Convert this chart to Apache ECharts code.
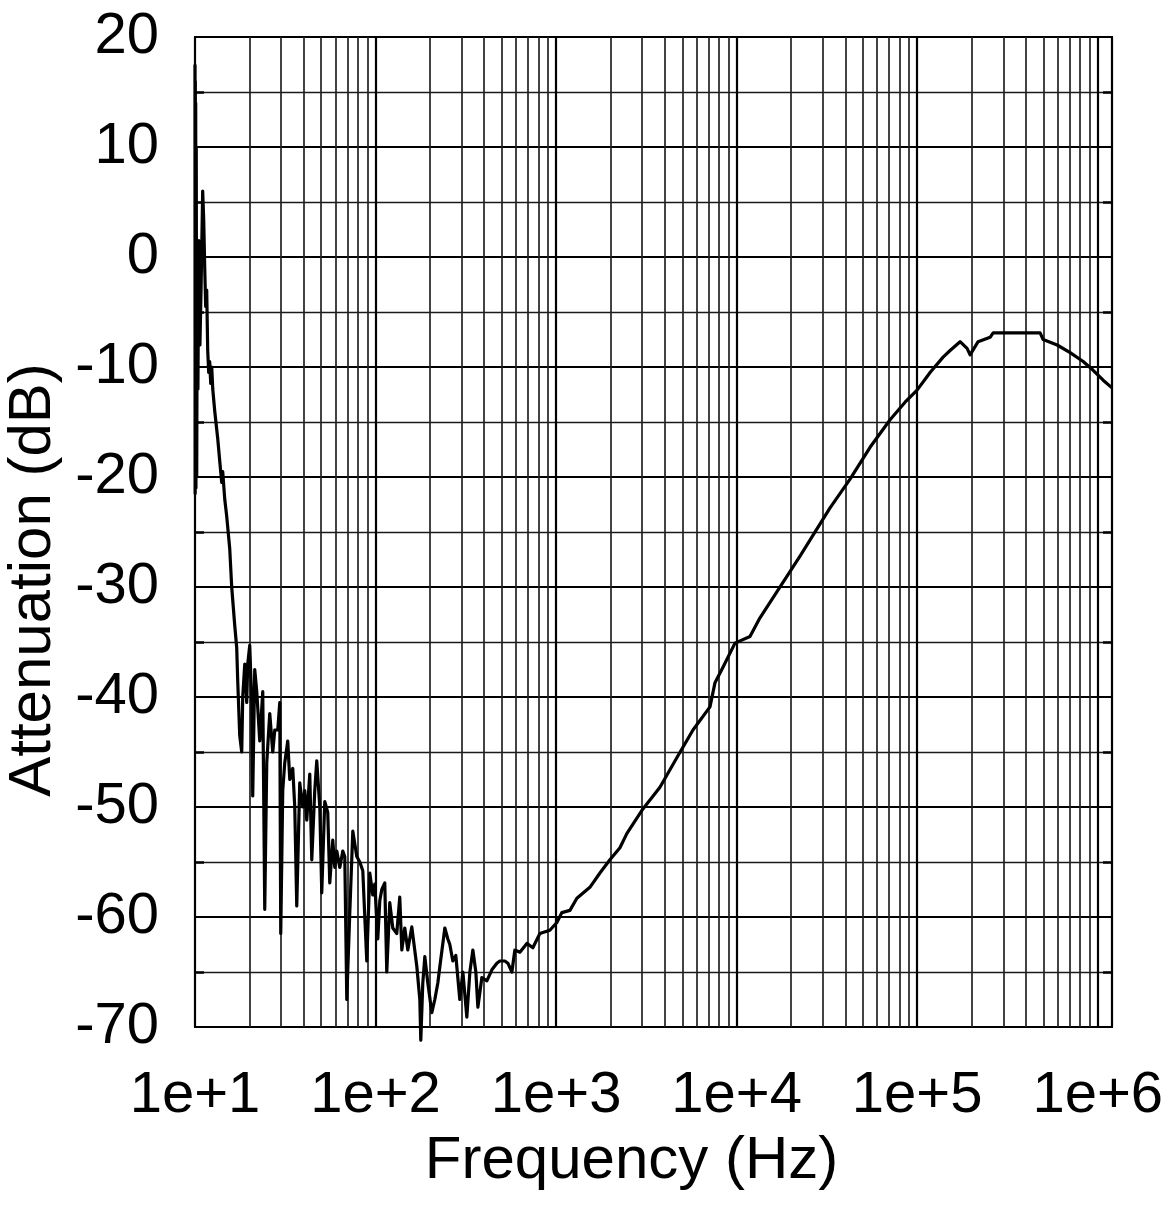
<!DOCTYPE html>
<html>
<head>
<meta charset="utf-8">
<script src="https://cdn.jsdelivr.net/npm/echarts@6/dist/echarts.min.js"></script>
<style>
html,body{margin:0;padding:0;background:#fff;}
#chart{width:1174px;height:1218px;}
</style>
</head>
<body>
<div id="chart"></div>
<script>
// Frequency (Hz), Attenuation (dB) pairs
const startSegment = [
  [10.00, 17.5], [10.02, -21.5], [10.04, 16], [10.06, -21], [10.09, 14], [10.12, -21],
  [10.16, 10], [10.22, -20], [10.30, 0], [10.38, -12], [10.50, 1.5], [10.65, -8],
  [10.80, -3], [11.03, 6], [11.17, 3.5], [11.32, -1], [11.46, -4.5], [11.61, -3],
  [11.76, -8.5], [11.91, -10.5], [12.06, -9.5], [12.22, -11.5], [12.38, -10], [12.54, -12],
  [12.86, -14], [13.36, -16.5], [13.70, -18.5], [14.06, -20.5], [14.24, -19.5], [14.61, -22],
  [14.99, -23.6], [15.57, -26.5], [15.97, -30], [16.60, -33.5], [17.02, -35.5]
];
const noiseSegment = [
  [17.24, -38.5], [17.69, -43.5], [18.15, -45], [18.38, -40], [18.86, -37], [19.34, -40.5],
  [19.59, -37], [20.10, -35.3], [20.62, -40.5], [20.88, -49], [21.42, -37.5], [21.98, -39.5],
  [22.84, -44], [23.73, -39.5], [24.34, -59.3], [24.97, -46], [25.94, -41.5], [26.96, -45],
  [27.66, -43], [28.73, -43], [29.48, -40.5], [29.85, -61.5], [30.62, -48.5], [31.41, -46],
  [32.64, -44], [33.49, -47.5], [34.79, -46.5], [35.69, -50], [36.61, -59], [38.03, -47.8],
  [39.53, -50], [40.55, -48.5], [41.59, -51.2], [43.22, -47], [44.34, -54.8], [46.06, -48.5],
  [47.25, -45.8], [49.11, -50], [50.36, -57.8], [52.33, -49.5], [54.37, -50.5], [55.78, -56.9],
  [57.96, -53], [59.46, -55.5], [61.00, -54], [63.39, -55.5], [65.85, -54], [67.55, -54.5],
  [69.30, -67.5], [72.00, -59.6], [74.82, -52.2], [78.73, -54.5], [81.80, -55], [85.00, -55.8],
  [87.18, -60], [89.43, -64], [92.92, -56], [96.54, -58], [99.04, -57], [102.9, -62],
  [105.6, -58.5], [108.3, -57.5], [112.5, -56.9], [115.4, -65], [119.9, -58.7], [124.6, -61],
  [131.1, -61.5], [136.2, -58.2], [139.8, -63], [145.2, -61], [150.9, -63], [158.8, -60.9],
  [169.3, -64.5], [175.9, -67.5], [178.1, -71.2], [182.7, -66], [187.5, -63.6], [194.8, -66],
  [205.0, -68.7], [213.0, -67.5], [221.3, -66], [227.1, -64.5], [242.0, -61], [251.5, -62]
];
const floorSegment = [
  [257.9, -62.5], [268.0, -64], [278.4, -63.5], [292.9, -67.5], [304.5, -65], [320.4, -69.1],
  [333.0, -65], [346.0, -63], [359.4, -65], [368.8, -68.2], [388.1, -65.5], [413.7, -65.8],
  [441.0, -64.8], [469.9, -64.2], [488.2, -64], [520.4, -64], [540.7, -64.2], [569.0, -65],
  [591.2, -63], [630.1, -63.2], [689.0, -62.4], [743.6, -62.8], [813.3, -61.5], [924.0, -61.2],
  [1010, -60.5], [1077, -59.6], [1193, -59.4], [1304, -58.3], [1539, -57.3], [1749, -56]
];
const riseSegment = [
  [1987, -54.8], [2258, -53.7], [2469, -52.4], [2989, -50.3], [3761, -48.2], [4672, -45.5],
  [5731, -43], [7119, -40.9], [7590, -38.7], [8404, -37.3], [9794, -35.1], [11858, -34.5],
  [13470, -32.8], [22443, -27.2], [32917, -22.8], [42482, -20.2], [54840, -17.3], [70780, -14.8],
  [85700, -13.2], [99900, -12.1], [117900, -10.5], [139190, -9.1], [152190, -8.5], [172900, -7.7],
  [188990, -8.3], [196440, -8.9], [217570, -7.7], [253570, -7.3], [263450, -6.9], [357840, -6.9],
  [479820, -6.9], [498550, -7.5], [596300, -8], [703790, -8.7], [830840, -9.5], [943840, -10.3],
  [1072000, -11.2], [1200000, -11.9]
];

const xDecades = [10, 100, 1000, 10000, 100000];
const minorMultipliers = [2, 3, 4, 5, 6, 7, 8, 9];
const xRange = [10, 1.2e6];
const yRange = [-70, 20];

const curve = startSegment.concat(noiseSegment, floorSegment, riseSegment);

const minorGrid = [];
xDecades.forEach(d => minorMultipliers.forEach(m => minorGrid.push({ xAxis: d * m })));

const FONT = 'Liberation Sans, Arial, sans-serif';
const chart = echarts.init(document.getElementById('chart'), null, { renderer: 'canvas' });

const yCommon = {
  type: 'value', min: yRange[0], max: yRange[1], interval: 10,
  axisLine: { show: true, lineStyle: { color: '#000', width: 2 } },
  axisTick: { show: true, inside: true, length: 9, lineStyle: { color: '#000', width: 2 } },
  minorTick: { show: true, splitNumber: 2, length: 9, lineStyle: { color: '#000', width: 2.5 } }
};

chart.setOption({
  animation: false,
  backgroundColor: '#fff',
  grid: {
    left: 195, right: 62, top: 37, bottom: 191,
    containLabel: false, outerBoundsMode: 'none',
    show: true, borderColor: '#000', borderWidth: 2
  },
  xAxis: {
    type: 'log', logBase: 10, min: xRange[0], max: xRange[1],
    name: 'Frequency (Hz)', nameLocation: 'middle', nameGap: 104,
    nameTextStyle: { fontFamily: FONT, fontSize: 60, color: '#000', padding: [0, 44, 0, 0] },
    axisLine: { show: true, lineStyle: { color: '#000', width: 2 } },
    axisTick: { show: false },
    axisLabel: {
      fontFamily: FONT, fontSize: 58, color: '#000', margin: 40, showMaxLabel: false,
      formatter: v => {
        const e = Math.log10(v);
        return Math.abs(e - Math.round(e)) < 1e-6 ? '1e+' + Math.round(e) : '';
      }
    },
    splitLine: { show: true, lineStyle: { color: '#000', width: 2.2 } }
  },
  yAxis: [
    Object.assign({}, yCommon, {
      position: 'left',
      name: 'Attenuation (dB)', nameLocation: 'middle', nameGap: 132, nameRotate: 90,
      nameTextStyle: { fontFamily: FONT, fontSize: 60, color: '#000', padding: [0, 96, 0, 0] },
      axisLabel: { fontFamily: FONT, fontSize: 58, color: '#000', margin: 36 },
      splitLine: { show: true, lineStyle: { color: '#000', width: 2.2 } },
      minorSplitLine: { show: true, lineStyle: { color: '#1a1a1a', width: 1.4 } }
    }),
    Object.assign({}, yCommon, {
      position: 'right',
      axisLabel: { show: false },
      splitLine: { show: false },
      minorSplitLine: { show: false }
    })
  ],
  series: [
    {
      name: 'minor grid', type: 'line', data: [], z: 1, silent: true,
      markLine: {
        silent: true, symbol: ['none', 'none'], animation: false,
        label: { show: false },
        lineStyle: { color: '#222', width: 1.7, type: 'solid' },
        emphasis: { disabled: true },
        data: minorGrid
      }
    },
    {
      name: 'Attenuation', type: 'line', data: curve, z: 5,
      showSymbol: false, symbol: 'none', clip: false,
      lineStyle: { color: '#000', width: 3.2, join: 'round' }
    }
  ]
});
</script>
</body>
</html>
